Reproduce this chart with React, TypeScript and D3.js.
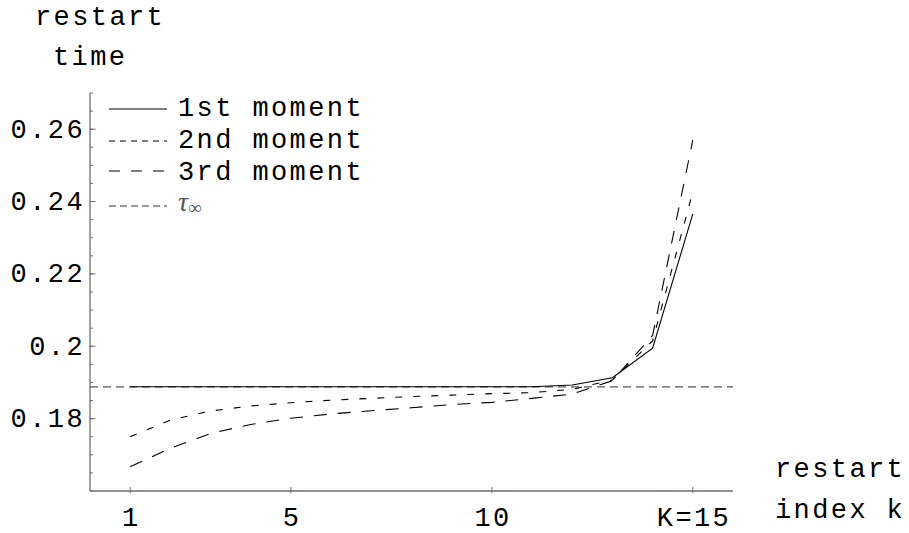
import React from "react";
import * as d3 from "d3";

const ks = [1, 2, 3, 4, 5, 6, 7, 8, 9, 10, 11, 12, 13, 14, 15];
const moment1 = [0.1888, 0.1888, 0.1888, 0.1888, 0.1888, 0.1888, 0.1888, 0.1888, 0.1888, 0.1888, 0.1888, 0.1893, 0.1913, 0.1995, 0.2366];
const moment2 = [0.175, 0.1796, 0.1821, 0.1835, 0.1844, 0.1851, 0.1856, 0.1861, 0.1865, 0.1869, 0.1872, 0.1881, 0.1907, 0.2015, 0.2427];
const moment3 = [0.1667, 0.1718, 0.1759, 0.1784, 0.1801, 0.1813, 0.1822, 0.183, 0.1839, 0.1845, 0.1856, 0.1868, 0.1905, 0.203, 0.257];
const tauInf = 0.1888;
const xTicks = [1, 5, 10, 15];
const xTickLabels = ["1", "5", "10", "K=15"];
const yTicks = [0.18, 0.2, 0.22, 0.24, 0.26];
const yTickLabels = ["0.18", "0.2", "0.22", "0.24", "0.26"];
const legendLabels = ["1st moment", "2nd moment", "3rd moment"];

const W = 909;
const H = 533;
const MONO = "'Liberation Mono', 'DejaVu Sans Mono', monospace";

export default function App() {
  const x = d3.scaleLinear().domain([0, 16]).range([90, 733]);
  const y = d3.scaleLinear().domain([0.16, 0.27]).range([491, 93]);
  const line = d3
    .line<[number, number]>()
    .x((d) => x(d[0]))
    .y((d) => y(d[1]));
  const pts = (vals: number[]) => ks.map((k, i) => [k, vals[i]] as [number, number]);
  const minor = d3.range(0.16, 0.2701, 0.005);
  const axisColor = "#6e6e6e";
  const fs = 27;
  const ls = 2.4;

  const series = [
    { vals: moment1, dash: "none", legendDash: "none" },
    { vals: moment2, dash: "7,11", legendDash: "6,5" },
    { vals: moment3, dash: "13,11", legendDash: "11,11" },
  ];
  const legendY = [109, 141, 171];
  const legendBase = [116, 148, 180];

  return (
    <svg width={W} height={H} style={{ position: "absolute", left: 0, top: 0, background: "#fff" }}>
      <rect width={W} height={H} fill="#fff" />
      {/* axis titles */}
      <text x={35} y={25} fontFamily={MONO} fontSize={fs} letterSpacing={ls} fill="#000">restart</text>
      <text x={53} y={65} fontFamily={MONO} fontSize={fs} letterSpacing={ls} fill="#000">time</text>
      <text x={775} y={477} fontFamily={MONO} fontSize={fs} letterSpacing={ls} fill="#000">restart</text>
      <text x={775} y={518} fontFamily={MONO} fontSize={fs} letterSpacing={ls} fill="#000">index k</text>

      {/* axes */}
      <line x1={x(0)} x2={x(0)} y1={y(0.27)} y2={y(0.16)} stroke={axisColor} strokeWidth={1.3} />
      <line x1={x(0)} x2={x(16)} y1={y(0.16)} y2={y(0.16)} stroke={axisColor} strokeWidth={1.3} />
      {minor.map((v, i) => (
        <line key={"m" + i} x1={x(0)} x2={x(0) + 3} y1={y(v)} y2={y(v)} stroke={axisColor} strokeWidth={1} />
      ))}
      {yTicks.map((v, i) => (
        <g key={"y" + i}>
          <line x1={x(0)} x2={x(0) + 5.5} y1={y(v)} y2={y(v)} stroke={axisColor} strokeWidth={1} />
          <text x={85} y={y(v) + 8.5} textAnchor="end" fontFamily={MONO} fontSize={fs} letterSpacing={ls} fill="#000">
            {yTickLabels[i]}
          </text>
        </g>
      ))}
      {xTicks.map((v, i) => (
        <g key={"x" + i}>
          <line x1={x(v)} x2={x(v)} y1={y(0.16) - 4} y2={y(0.16) + 2} stroke={axisColor} strokeWidth={1} />
          <text x={x(v) + ls / 2} y={526} textAnchor="middle" fontFamily={MONO} fontSize={fs} letterSpacing={ls} fill="#000">
            {xTickLabels[i]}
          </text>
        </g>
      ))}

      {/* tau infinity */}
      <line x1={x(0)} x2={x(16)} y1={y(tauInf)} y2={y(tauInf)} stroke="#555" strokeWidth={1.2} strokeDasharray="8,5" />

      {/* series */}
      {series.map((s, i) => (
        <path key={"s" + i} d={line(pts(s.vals)) || ""} fill="none" stroke="#000" strokeWidth={1.1} strokeDasharray={s.dash} />
      ))}

      {/* legend */}
      {series.map((s, i) => (
        <g key={"l" + i}>
          <line x1={109} x2={167} y1={legendY[i]} y2={legendY[i]} stroke="#000" strokeWidth={1.1} strokeDasharray={s.legendDash} />
          <text x={178} y={legendBase[i]} fontFamily={MONO} fontSize={fs} letterSpacing={ls} fill="#000">
            {legendLabels[i]}
          </text>
        </g>
      ))}
      <line x1={109} x2={167} y1={206} y2={206} stroke="#333" strokeWidth={1.1} strokeDasharray="7,4" />
      <text x={178} y={211} fontFamily="'Liberation Serif', 'DejaVu Serif', serif" fontSize={28} fill="#555">
        <tspan fontStyle="italic">τ</tspan>
        <tspan fontSize={19} dy={3}>∞</tspan>
      </text>
    </svg>
  );
}
